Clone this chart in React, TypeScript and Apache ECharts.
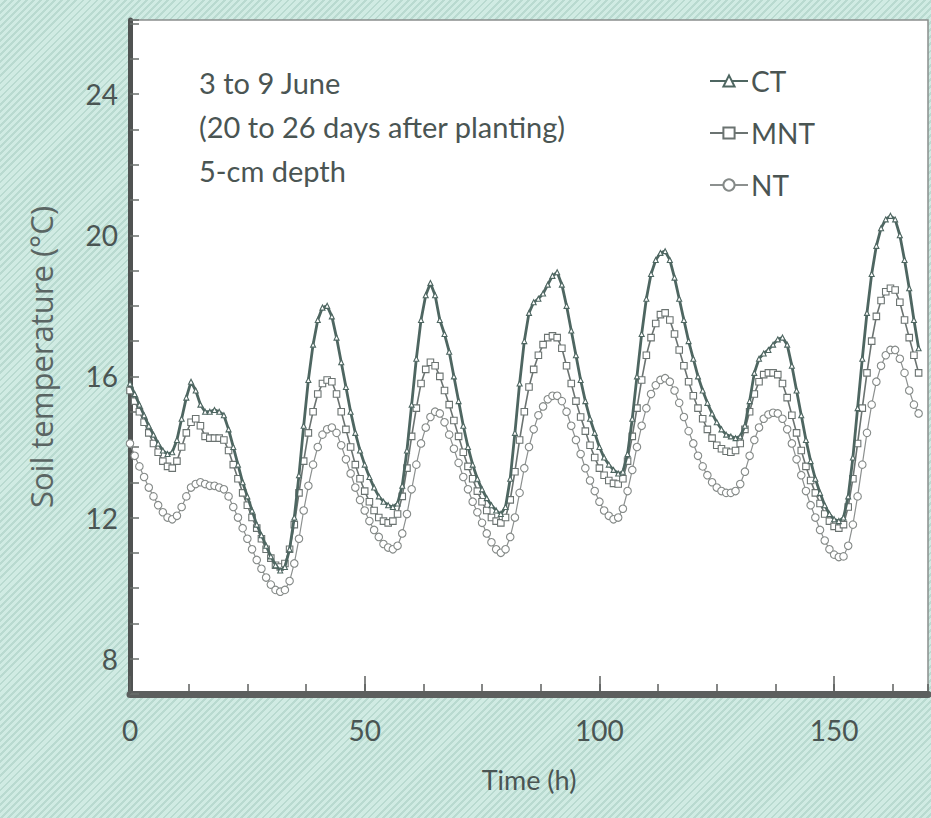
import React, { useEffect, useRef } from "react";
import * as echarts from "echarts";

// Hourly soil temperature (°C) at 5-cm depth, 3 to 9 June (hours 0..168)
const CT = [
  15.8, 15.5, 15.2, 14.9, 14.6, 14.35, 14.1, 13.9, 13.8, 13.85, 14.2, 14.8, 15.4, 15.85, 15.6, 15.2, 15.0, 15.0, 15.05, 15.0,
  14.9, 14.5, 14.0, 13.5, 13.0, 12.6, 12.2, 11.8, 11.5, 11.2, 10.9, 10.65, 10.5, 10.6, 11.1, 12.0, 13.2, 14.6, 15.9, 16.9,
  17.6, 17.95, 18.0, 17.7, 17.1, 16.4, 15.7, 15.0, 14.4, 13.9, 13.5, 13.15, 12.85, 12.6, 12.45, 12.35, 12.3, 12.4, 12.9, 13.9,
  15.2, 16.5, 17.6, 18.3, 18.65, 18.3, 17.6, 17.2, 16.7, 16.0, 15.3, 14.6, 14.0, 13.5, 13.1, 12.8, 12.55, 12.35, 12.2, 12.1,
  12.3, 13.1, 14.4, 15.8, 17.0, 17.8, 18.1, 18.2, 18.35, 18.6, 18.85, 18.95, 18.6, 18.0, 17.3, 16.6, 15.9, 15.3, 14.8, 14.4,
  14.0, 13.7, 13.5, 13.35, 13.25, 13.3, 13.8, 14.8, 16.0, 17.2, 18.2, 18.9, 19.3, 19.5, 19.55, 19.3, 18.8, 18.2, 17.6, 17.0,
  16.5, 16.0, 15.6, 15.25, 14.95, 14.7, 14.5, 14.35, 14.3, 14.25, 14.3, 14.6, 15.3, 16.1, 16.5, 16.65, 16.75, 16.9, 17.05, 17.1,
  16.9, 16.3, 15.6, 14.9, 14.2, 13.6, 13.1, 12.7, 12.35, 12.1, 11.95, 11.9, 12.0, 12.6, 13.7, 15.1, 16.5, 17.8, 18.9, 19.7,
  20.2, 20.45, 20.55, 20.45, 20.0, 19.3, 18.5, 17.6, 16.8,
];

const MNT = [
  15.6, 15.3, 15.0, 14.7, 14.4, 14.1, 13.85, 13.6, 13.45, 13.4, 13.6, 14.0, 14.4, 14.7, 14.8, 14.6, 14.3, 14.25, 14.25, 14.25,
  14.2, 13.9, 13.5, 13.1, 12.7, 12.35, 12.0, 11.7, 11.4, 11.1, 10.85, 10.65, 10.6, 10.7, 11.1, 11.8, 12.7, 13.6, 14.4, 15.0,
  15.5, 15.8, 15.9, 15.85, 15.5, 15.0, 14.5, 14.0, 13.5, 13.1, 12.75, 12.45, 12.2, 12.0, 11.9, 11.85, 11.9, 12.1, 12.6, 13.4,
  14.3, 15.1, 15.8, 16.2, 16.4, 16.3, 16.0, 15.6, 15.2, 14.75, 14.3, 13.85, 13.45, 13.1, 12.75, 12.45, 12.2, 12.0, 11.9, 11.85,
  12.0, 12.5, 13.3, 14.2, 15.0, 15.7, 16.2, 16.6, 16.9, 17.1, 17.15, 17.1, 16.8, 16.3, 15.8, 15.3, 14.85, 14.45, 14.05, 13.7,
  13.4, 13.2, 13.05, 12.97, 12.95, 13.1, 13.6, 14.3, 15.1, 15.9, 16.6, 17.1, 17.5, 17.75, 17.8, 17.6, 17.2, 16.75, 16.3, 15.85,
  15.45, 15.1, 14.8, 14.5, 14.25, 14.05, 13.95, 13.88, 13.85, 13.9, 14.1, 14.5, 15.0, 15.5, 15.85, 16.05, 16.1, 16.1, 16.05, 15.8,
  15.4, 14.9, 14.4, 13.9, 13.45, 13.05, 12.7, 12.4, 12.1, 11.9, 11.75, 11.7, 11.8, 12.3, 13.1, 14.1, 15.1, 16.1, 17.0, 17.7,
  18.15, 18.4, 18.5, 18.45, 18.1, 17.6, 17.1, 16.6, 16.1,
];

const NT = [
  14.1, 13.75, 13.45, 13.15, 12.85, 12.6, 12.35, 12.15, 12.0, 11.95, 12.05, 12.3, 12.6, 12.85, 12.95, 13.0, 12.95, 12.9, 12.9, 12.85,
  12.8, 12.6, 12.3, 12.0, 11.7, 11.4, 11.1, 10.8, 10.55, 10.3, 10.1, 9.95, 9.9, 9.95, 10.2, 10.7, 11.4, 12.2, 12.9, 13.5,
  14.0, 14.35, 14.5, 14.55, 14.4, 14.05, 13.65, 13.25, 12.85, 12.5, 12.2, 11.9, 11.65, 11.45, 11.25, 11.15, 11.1, 11.2, 11.55, 12.1,
  12.8, 13.5, 14.1, 14.55, 14.85, 15.0, 14.95, 14.7, 14.35, 13.95, 13.55, 13.15, 12.8, 12.45, 12.15, 11.85, 11.55, 11.3, 11.1, 11.0,
  11.1, 11.45, 12.0, 12.7, 13.4, 14.0, 14.5, 14.9, 15.15, 15.35, 15.45, 15.45, 15.3, 15.0, 14.6, 14.2, 13.8, 13.4, 13.05, 12.75,
  12.45, 12.2, 12.05, 11.95, 12.0, 12.25, 12.75, 13.35, 14.0, 14.6, 15.1, 15.5, 15.75, 15.9, 15.95, 15.85, 15.6, 15.25, 14.85, 14.45,
  14.1, 13.75, 13.45, 13.2, 13.0, 12.85, 12.75, 12.7, 12.7, 12.75, 12.95, 13.3, 13.75, 14.2, 14.55, 14.8, 14.92, 14.97, 14.95, 14.8,
  14.5, 14.1, 13.65, 13.2, 12.75, 12.35, 12.0, 11.65, 11.35, 11.1, 10.95, 10.88, 10.9, 11.2, 11.8, 12.6, 13.5, 14.4, 15.2, 15.85,
  16.3, 16.6, 16.75, 16.75, 16.5, 16.1, 15.6, 15.2, 14.95,
];

const SERIES_NAMES = ["CT", "MNT", "NT"];
const Y_LABELS = [8, 12, 16, 20, 24];
const X_LABELS = [0, 50, 100, 150];
const NOTE_LINES = ["3 to 9 June", "(20 to 26 days after planting)", "5-cm depth"];

const FONT = "Lato, 'Open Sans', sans-serif";
const TXT = "#4a5553";

export default function App() {
  const ref = useRef<HTMLDivElement>(null);

  useEffect(() => {
    if (!ref.current) return;
    const chart = echarts.init(ref.current, null, { renderer: "svg" });
    const pairs = (arr: number[]) => arr.map((v, i) => [i, v]);

    const option: any = {
      animation: false,
      backgroundColor: "transparent",
      textStyle: { fontFamily: FONT },
      title: {
        text: NOTE_LINES.join("\n"),
        left: 194,
        top: 55,
        textStyle: { fontFamily: FONT, fontSize: 29, fontWeight: "normal", color: TXT, lineHeight: 44 },
      },
      legend: {
        orient: "vertical",
        left: 704,
        top: 62,
        itemGap: 24,
        itemWidth: 38,
        itemHeight: 14,
        data: SERIES_NAMES,
        textStyle: { fontFamily: FONT, fontSize: 28, color: TXT, padding: [0, 0, 0, -2] },
      },
      grid: {
        left: 130,
        right: 3,
        top: 20,
        bottom: 124,
        show: true,
        backgroundColor: "#ffffff",
        borderColor: "#8a8f8d",
        borderWidth: 1.5,
      },
      xAxis: [
        {
          type: "value",
          min: 0,
          max: 170,
          interval: 12.5,
          position: "bottom",
          axisLine: { show: true, lineStyle: { color: "#5c5f5e", width: 7 } },
          axisTick: { show: true, inside: true, length: 10, lineStyle: { color: "#5c5f5e", width: 1.5 } },
          axisLabel: { show: false },
          splitLine: { show: false },
        },
        {
          type: "value",
          min: 0,
          max: 170,
          interval: 50,
          position: "bottom",
          axisLine: { show: false },
          axisTick: { show: true, inside: true, length: 18, lineStyle: { color: "#5c5f5e", width: 1.5 } },
          axisLabel: {
            show: true,
            showMaxLabel: false,
            margin: 22,
            fontSize: 28,
            color: TXT,
            fontFamily: FONT,
            formatter: (v: number) => (X_LABELS.indexOf(v) >= 0 ? String(v) : ""),
          },
          splitLine: { show: false },
          name: "Time (h)",
          nameLocation: "middle",
          nameGap: 72,
          nameTextStyle: { fontSize: 27, color: TXT, fontFamily: FONT },
        },
      ],
      yAxis: [
        {
          type: "value",
          min: 7,
          max: 26.1,
          interval: 1,
          position: "left",
          axisLine: { show: true, lineStyle: { color: "#8a8f8d", width: 1.5 } },
          axisTick: { show: true, inside: true, length: 9, lineStyle: { color: "#6a6f6d", width: 1.5 } },
          axisLabel: {
            margin: 12,
            fontSize: 28,
            color: TXT,
            fontFamily: FONT,
            formatter: (v: number) => (Y_LABELS.indexOf(v) >= 0 ? String(v) : ""),
          },
          splitLine: { show: false },
          name: "Soil temperature (°C)",
          nameLocation: "middle",
          nameGap: 74,
          nameTextStyle: { fontSize: 31, color: "#5a6563", fontFamily: "'Open Sans', Lato, sans-serif" },
        },
        {
          type: "value",
          min: 7,
          max: 26.1,
          position: "right",
          axisLine: { show: true, lineStyle: { color: "#505352", width: 5 } },
          axisTick: { show: false },
          axisLabel: { show: false },
          splitLine: { show: false },
        },
      ],
      series: [
        {
          name: "NT",
          type: "line",
          data: pairs(NT),
          symbol: "circle",
          symbolSize: 7.5,
          itemStyle: { color: "#ffffff", borderColor: "#858a88", borderWidth: 1.1 },
          lineStyle: { color: "#8c908f", width: 1.2 },
          z: 2,
        },
        {
          name: "MNT",
          type: "line",
          data: pairs(MNT),
          symbol: "rect",
          symbolSize: 6.5,
          itemStyle: { color: "#ffffff", borderColor: "#6b7371", borderWidth: 1.1 },
          lineStyle: { color: "#6b7371", width: 1.6 },
          z: 3,
        },
        {
          name: "CT",
          type: "line",
          data: pairs(CT),
          symbol: "triangle",
          symbolSize: 5,
          itemStyle: { color: "#ffffff", borderColor: "#4e6661", borderWidth: 1.1 },
          lineStyle: { color: "#4e6661", width: 2.8 },
          z: 4,
        },
      ],
    };

    chart.setOption(option);
    return () => chart.dispose();
  }, []);

  return (
    <div
      style={{
        position: "fixed",
        left: 0,
        top: 0,
        width: 931,
        height: 818,
        background:
          "repeating-linear-gradient(135deg, #d0ebe3 0px, #d0ebe3 3px, #b9dad0 3px, #b9dad0 5px)",
      }}
    >
      <div ref={ref} style={{ width: 931, height: 818 }} />
    </div>
  );
}
